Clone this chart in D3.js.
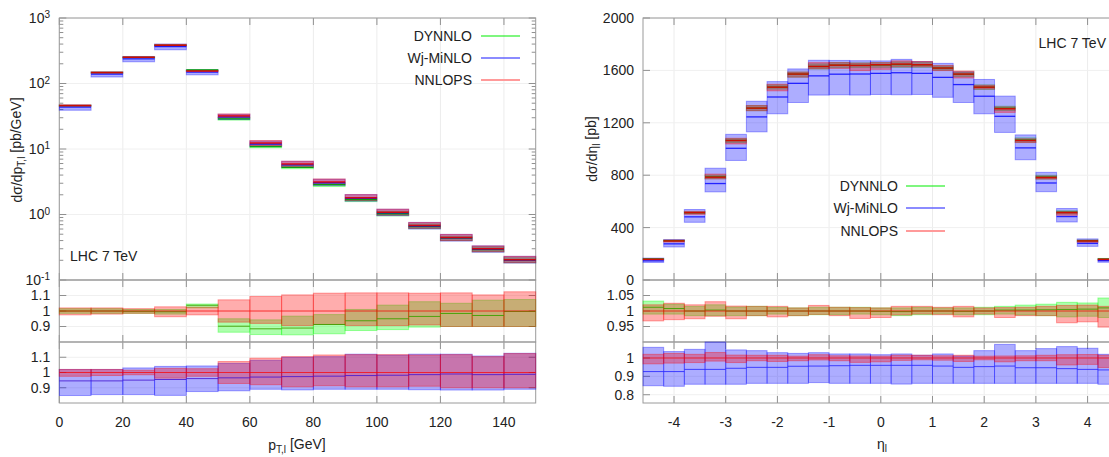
<!DOCTYPE html>
<html>
<head>
<meta charset="utf-8">
<script src="https://cdn.jsdelivr.net/npm/d3@7"></script>
<style>
body { margin: 0; background: #fff; }
text { font-family: "Liberation Sans", Arial, Helvetica, sans-serif; fill: #222; }
</style>
</head>
<body>
<div id="chart"></div>
<script>
// ---- data: lepton pT (left) ----
const ptEdges = [0,10,20,30,40,50,60,70,80,90,100,110,120,130,140,150]
const ptNNLOPS = [46,147,251,385,155,32,12.3,5.9,3.13,1.80,1.08,0.677,0.444,0.30,0.204]
// bands / ratios relative to NNLOPS central value
const ptNNLo = [0.975,0.98,0.985,0.963,0.975,0.928,0.92,0.906,0.913,0.906,0.906,0.91,0.9,0.9,0.9]
const ptNNHi = [1.02,1.02,1.015,1.027,1.025,1.072,1.094,1.104,1.115,1.117,1.117,1.115,1.117,1.104,1.124]
const ptDY   = [1.0,1.0,0.998,0.995,1.037,0.902,0.885,0.89,0.913,0.937,0.95,0.965,0.984,0.971,0.997]
const ptDYLo = [0.985,0.985,0.985,0.98,1.02,0.863,0.848,0.846,0.853,0.874,0.88,0.896,0.9,0.9,0.9]
const ptDYHi = [1.015,1.015,1.01,1.01,1.045,0.95,0.943,0.967,0.977,1.01,1.038,1.06,1.05,1.07,1.074]
const ptMi   = [0.945,0.945,0.95,0.954,0.96,0.965,0.97,0.973,0.976,0.98,0.982,0.986,0.99,0.986,0.988]
const ptMiLo = [0.849,0.855,0.855,0.85,0.875,0.88,0.89,0.886,0.89,0.89,0.89,0.887,0.885,0.885,0.89]
const ptMiHi = [1.02,1.02,1.03,1.04,1.043,1.06,1.08,1.1,1.104,1.12,1.114,1.12,1.12,1.108,1.126]

// ---- data: lepton rapidity (right) ----
const etaEdges = [-4.6,-4.2,-3.8,-3.4,-3.0,-2.6,-2.2,-1.8,-1.4,-1.0,-0.6,-0.2,0.2,0.6,1.0,1.4,1.8,2.2,2.6,3.0,3.4,3.8,4.2,4.6]
const etaNNLOPS = [158,298,514,785,1065,1312,1472,1572,1630,1640,1638,1643,1648,1643,1618,1572,1472,1307,1065,782,514,298,158]
const etaNNLo = [0.968,0.972,0.975,0.983,0.975,0.985,0.981,0.985,0.989,0.985,0.976,0.979,0.987,0.99,0.988,0.981,0.99,0.979,0.985,0.985,0.962,0.965,0.948]
const etaNNHi = [1.02,1.025,1.02,1.03,1.016,1.015,1.015,1.01,1.018,1.012,1.011,1.01,1.015,1.015,1.012,1.015,1.01,1.011,1.012,1.015,1.018,1.019,1.015]
const etaDY   = [1.012,1.008,1.0,1.003,1.0,1.0,1.0,1.0,1.0,1.0,1.0,0.999,0.998,1.0,1.0,0.999,1.0,1.003,1.003,1.004,1.005,1.006,1.01]
const etaDYLo = [0.99,0.99,0.985,0.985,0.985,0.985,0.99,0.985,0.988,0.988,0.99,0.988,0.985,0.988,0.99,0.988,0.988,0.99,0.987,0.985,0.981,0.983,0.979]
const etaDYHi = [1.032,1.022,1.015,1.02,1.013,1.015,1.012,1.01,1.012,1.012,1.012,1.01,1.01,1.012,1.01,1.01,1.012,1.015,1.019,1.022,1.028,1.026,1.042]
const etaMi   = [0.926,0.926,0.938,0.938,0.944,0.949,0.949,0.955,0.956,0.958,0.96,0.96,0.96,0.96,0.956,0.949,0.953,0.956,0.947,0.947,0.942,0.938,0.935]
const etaMiLo = [0.849,0.846,0.857,0.857,0.857,0.862,0.862,0.862,0.866,0.862,0.862,0.862,0.858,0.862,0.862,0.862,0.862,0.862,0.862,0.862,0.862,0.862,0.857]
const etaMiHi = [1.058,1.035,1.047,1.087,1.044,1.04,1.029,1.025,1.029,1.022,1.022,1.018,1.022,1.015,1.022,1.011,1.04,1.074,1.04,1.051,1.062,1.053,1.02]

const legendNames = ["DYNNLO","Wj-MiNLO","NNLOPS"]
const ptTicks = [0,20,40,60,80,100,120,140]
const etaTicks = [-4,-3,-2,-1,0,1,2,3,4]

const cGreen = "#00ff00", cBlue = "#0000ff", cRed = "#ff0000"

const svg = d3.select("#chart").append("svg").attr("width",1109).attr("height",457)

const yTop = 18, mainBot = 280, r1Bot = 342, r2Bot = 403

// scales
const xL = d3.scaleLinear().domain([0,150]).range([59.3,535.7])
const xR = d3.scaleLinear().domain([-4.6,4.6]).range([643,1118.6])
const yLmain = d3.scaleLog().domain([0.1,1000]).range([mainBot,yTop])
const yLr1 = d3.scaleLinear().domain([0.8,1.2]).range([r1Bot,mainBot])
const yLr2 = d3.scaleLinear().domain([0.8,1.2]).range([r2Bot,r1Bot])
const yRmain = d3.scaleLinear().domain([0,2000]).range([mainBot,yTop])
const yRr1 = d3.scaleLinear().domain([0.9,1.1]).range([r1Bot,mainBot])
const yRr2 = d3.scaleLinear().domain([0.755,1.087]).range([r2Bot,r1Bot])

const times = (a,b) => a.map((v,i) => v*b[i])

function bandRects(g, edges, lo, hi, x, y, col) {
  g.append("g").selectAll("rect").data(lo).join("rect")
    .attr("x",(d,i)=>x(edges[i])).attr("width",(d,i)=>x(edges[i+1])-x(edges[i]))
    .attr("y",(d,i)=>y(hi[i])).attr("height",(d,i)=>Math.max(1,y(lo[i])-y(hi[i])))
    .attr("fill",col).attr("fill-opacity",0.32)
    .attr("stroke",col).attr("stroke-opacity",0.35).attr("stroke-width",1)
}
function binLines(g, edges, v, x, y, col, w, op) {
  g.append("g").selectAll("line").data(v).join("line")
    .attr("x1",(d,i)=>x(edges[i])).attr("x2",(d,i)=>x(edges[i+1]))
    .attr("y1",d=>y(d)).attr("y2",d=>y(d))
    .attr("stroke",col).attr("stroke-width",w).attr("stroke-opacity",op)
}

// frame, faint grid and inward ticks of one sub panel
function frame(x, y, y0, y1, xTicks, yTicks, yMinor) {
  const x0 = x.range()[0], x1 = x.range()[1]
  const g = svg.append("g")
  g.selectAll(".gx").data(xTicks).join("line")
    .attr("x1",d=>x(d)).attr("x2",d=>x(d)).attr("y1",y0).attr("y2",y1)
    .attr("stroke","#ececec")
  g.selectAll(".gy").data(yTicks).join("line")
    .attr("x1",x0).attr("x2",x1).attr("y1",d=>y(d)).attr("y2",d=>y(d))
    .attr("stroke","#f0f0f0")
  const tk = []
  xTicks.forEach(d => { tk.push([x(d),y0,x(d),y0+7]); tk.push([x(d),y1-7,x(d),y1]) })
  yTicks.forEach(d => { tk.push([x0,y(d),x0+7,y(d)]); tk.push([x1-7,y(d),x1,y(d)]) })
  yMinor.forEach(d => { tk.push([x0,y(d),x0+4,y(d)]); tk.push([x1-4,y(d),x1,y(d)]) })
  g.selectAll(".tk").data(tk).join("line")
    .attr("x1",d=>d[0]).attr("y1",d=>d[1]).attr("x2",d=>d[2]).attr("y2",d=>d[3])
    .attr("stroke","#909090").attr("stroke-width",1)
  g.append("rect").attr("x",x0).attr("y",y0).attr("width",x1-x0).attr("height",y1-y0)
    .attr("fill","none").attr("stroke","#9a9a9a").attr("stroke-width",1)
}

function yLabels(x, y, ticks, fmt) {
  const x0 = x.range()[0]
  svg.append("g").selectAll("text").data(ticks).join("text")
    .attr("x",x0-9).attr("y",d=>y(d)).attr("dy","0.35em")
    .attr("text-anchor","end").style("font-size","14px").text(fmt)
}
function xLabels(x, ticks) {
  svg.append("g").selectAll("text").data(ticks).join("text")
    .attr("x",d=>x(d)).attr("y",427).attr("text-anchor","middle")
    .style("font-size","14px").text(d=>d)
}
function legend(tx, lx, rows) {
  const cols = ["#00ee00", "#6464ff", "#ff9a9a"]
  const wid = [1.2, 1.4, 2]
  legendNames.forEach((n,i) => {
    svg.append("text").attr("x",tx).attr("y",rows[i]).attr("dy","0.35em")
      .attr("text-anchor","end").style("font-size","14px").text(n)
    svg.append("line").attr("x1",lx).attr("x2",lx+39).attr("y1",rows[i]).attr("y2",rows[i])
      .attr("stroke",cols[i]).attr("stroke-width",wid[i])
  })
}

// ===== left: pT =====
const logMinor = []
for (let e = -1; e < 3; e++) for (let m = 2; m < 10; m++) logMinor.push(m*Math.pow(10,e))
frame(xL, yLmain, yTop, mainBot, ptTicks, [0.1,1,10,100,1000], logMinor)
frame(xL, yLr1, mainBot, r1Bot, ptTicks, [0.9,1,1.1], [])
frame(xL, yLr2, r1Bot, r2Bot, ptTicks, [0.9,1,1.1], [])

const gL = svg.append("g")
bandRects(gL, ptEdges, times(ptNNLOPS,ptDYLo), times(ptNNLOPS,ptDYHi), xL, yLmain, cGreen)
bandRects(gL, ptEdges, times(ptNNLOPS,ptMiLo), times(ptNNLOPS,ptMiHi), xL, yLmain, cBlue)
bandRects(gL, ptEdges, times(ptNNLOPS,ptNNLo), times(ptNNLOPS,ptNNHi), xL, yLmain, cRed)
binLines(gL, ptEdges, times(ptNNLOPS,ptDY), xL, yLmain, "#00a000", 1.3, 0.9)
binLines(gL, ptEdges, times(ptNNLOPS,ptMi), xL, yLmain, cBlue, 1.3, 0.8)
binLines(gL, ptEdges, ptNNLOPS, xL, yLmain, "#e00000", 1.5, 0.9)

bandRects(gL, ptEdges, ptDYLo, ptDYHi, xL, yLr1, cGreen)
bandRects(gL, ptEdges, ptNNLo, ptNNHi, xL, yLr1, cRed)
binLines(gL, ptEdges, ptDY, xL, yLr1, "#40a000", 1, 0.9)
binLines(gL, ptEdges, ptNNLOPS.map(()=>1), xL, yLr1, cRed, 1, 0.7)

bandRects(gL, ptEdges, ptMiLo, ptMiHi, xL, yLr2, cBlue)
bandRects(gL, ptEdges, ptNNLo, ptNNHi, xL, yLr2, cRed)
binLines(gL, ptEdges, ptMi, xL, yLr2, "#4010d0", 1, 0.8)
binLines(gL, ptEdges, ptNNLOPS.map(()=>1), xL, yLr2, cRed, 1, 0.7)

// log tick labels with exponents
;[-1,0,1,2,3].forEach(e => {
  const t = svg.append("text").attr("x",50).attr("y",yLmain(Math.pow(10,e))).attr("dy","0.35em")
    .attr("text-anchor","end").style("font-size","14px")
  t.append("tspan").text("10")
  t.append("tspan").attr("dy","-0.45em").style("font-size","10px").text(e)
})
yLabels(xL, yLr1, [0.9,1,1.1], d=>d)
yLabels(xL, yLr2, [0.9,1,1.1], d=>d)
xLabels(xL, ptTicks)

svg.append("text").attr("x",70).attr("y",256).attr("dy","0.35em").style("font-size","14px").text("LHC 7 TeV")
legend(472, 481, [36,58,80])

const ylabL = svg.append("text").attr("transform","translate(22,150) rotate(-90)")
  .attr("text-anchor","middle").style("font-size","14px")
ylabL.append("tspan").text("dσ/dp")
ylabL.append("tspan").attr("dy","0.3em").style("font-size","10px").text("T,l")
ylabL.append("tspan").attr("dy","-0.3em").text(" [pb/GeV]")

const xlabL = svg.append("text").attr("x",297).attr("y",450).attr("text-anchor","middle").style("font-size","14px")
xlabL.append("tspan").text("p")
xlabL.append("tspan").attr("dy","0.3em").style("font-size","10px").text("T,l")
xlabL.append("tspan").attr("dy","-0.3em").text(" [GeV]")

// ===== right: eta =====
frame(xR, yRmain, yTop, mainBot, etaTicks, [0,400,800,1200,1600,2000], [])
frame(xR, yRr1, mainBot, r1Bot, etaTicks, [0.95,1,1.05], [])
frame(xR, yRr2, r1Bot, r2Bot, etaTicks, [0.8,0.9,1], [])

const gR = svg.append("g")
bandRects(gR, etaEdges, times(etaNNLOPS,etaDYLo), times(etaNNLOPS,etaDYHi), xR, yRmain, cGreen)
bandRects(gR, etaEdges, times(etaNNLOPS,etaMiLo), times(etaNNLOPS,etaMiHi), xR, yRmain, cBlue)
bandRects(gR, etaEdges, times(etaNNLOPS,etaNNLo), times(etaNNLOPS,etaNNHi), xR, yRmain, cRed)
binLines(gR, etaEdges, times(etaNNLOPS,etaDY), xR, yRmain, "#00a000", 1.3, 0.9)
binLines(gR, etaEdges, times(etaNNLOPS,etaMi), xR, yRmain, cBlue, 1.3, 0.8)
binLines(gR, etaEdges, etaNNLOPS, xR, yRmain, "#e00000", 1.5, 0.9)

bandRects(gR, etaEdges, etaDYLo, etaDYHi, xR, yRr1, cGreen)
bandRects(gR, etaEdges, etaNNLo, etaNNHi, xR, yRr1, cRed)
binLines(gR, etaEdges, etaDY, xR, yRr1, "#40a000", 1, 0.9)
binLines(gR, etaEdges, etaNNLOPS.map(()=>1), xR, yRr1, cRed, 1, 0.7)

bandRects(gR, etaEdges, etaMiLo, etaMiHi, xR, yRr2, cBlue)
bandRects(gR, etaEdges, etaNNLo, etaNNHi, xR, yRr2, cRed)
binLines(gR, etaEdges, etaMi, xR, yRr2, "#2020ff", 1, 0.8)
binLines(gR, etaEdges, etaNNLOPS.map(()=>1), xR, yRr2, cRed, 1, 0.7)

yLabels(xR, yRmain, [0,400,800,1200,1600,2000], d=>d)
yLabels(xR, yRr1, [0.95,1,1.05], d=>d)
yLabels(xR, yRr2, [0.8,0.9,1], d=>d)
xLabels(xR, etaTicks)

svg.append("text").attr("x",1106).attr("y",43).attr("dy","0.35em").attr("text-anchor","end")
  .style("font-size","14px").text("LHC 7 TeV")
legend(898, 906, [186,208,231])

const ylabR = svg.append("text").attr("transform","translate(597,149) rotate(-90)")
  .attr("text-anchor","middle").style("font-size","14px")
ylabR.append("tspan").text("dσ/dη")
ylabR.append("tspan").attr("dy","0.3em").style("font-size","10px").text("l")
ylabR.append("tspan").attr("dy","-0.3em").text(" [pb]")

const xlabR = svg.append("text").attr("x",882).attr("y",449).attr("text-anchor","middle").style("font-size","14px")
xlabR.append("tspan").text("η")
xlabR.append("tspan").attr("dy","0.3em").style("font-size","10px").text("l")
</script>
</body>
</html>
